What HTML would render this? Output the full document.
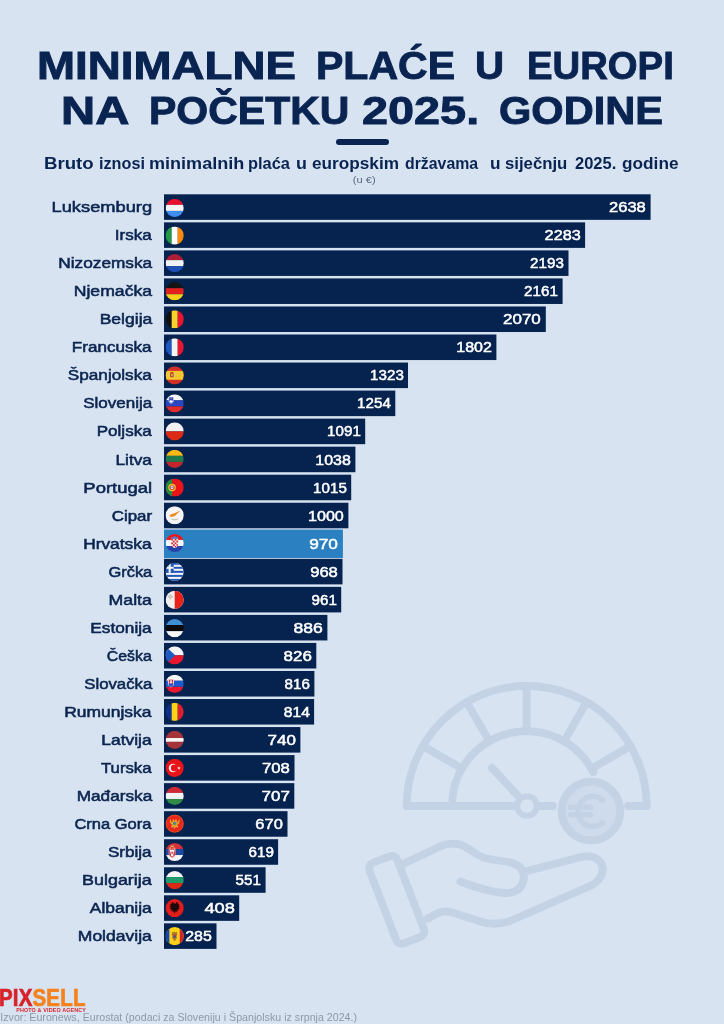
<!DOCTYPE html>
<html lang="hr"><head><meta charset="utf-8"><title>Minimalne plaće u Europi na početku 2025. godine</title>
<style>
html,body{margin:0;padding:0;overflow:hidden}
body{width:724px;height:1024px;background:#d7e3f1;position:relative;overflow:hidden;font-family:"Liberation Sans",sans-serif;color:#0b2550}
.t{position:absolute;left:0;width:724px;height:40px;font-weight:bold;font-size:38.2px;line-height:40px;white-space:nowrap;color:#0a2452;transform-origin:50% 50%;-webkit-text-stroke:0.9px #0a2452}
.t span,.st span{position:absolute;top:0;transform-origin:0 50%}
.t1{top:46.3px}
.t2{top:91.1px}
.dv{position:absolute;left:336px;top:138.7px;width:53px;height:6.3px;border-radius:3.2px;background:#0a2452}
.st{position:absolute;left:0;width:724px;top:153.5px;height:20px;font-weight:bold;font-size:15.6px;line-height:20px;white-space:nowrap;color:#0a2452}
.un{position:absolute;left:312px;width:100px;top:174px;text-align:center;font-size:8.7px;line-height:12px;color:#5a6880;transform:translateX(2.2px) scaleX(1.28)}
.row{position:absolute;left:0;width:724px;height:26px}
.lb{position:absolute;right:572.1px;top:0;height:100%;line-height:25.5px;font-weight:normal;-webkit-text-stroke:0.55px #0b2550;font-size:15.1px;white-space:nowrap;color:#0b2550;transform:scaleX(1.103);transform-origin:100% 50%}
.v{position:absolute;top:0;height:100%;line-height:26px;font-weight:normal;-webkit-text-stroke:0.5px #fff;font-size:14.3px;color:#fff;white-space:nowrap;transform:scaleX(1.14);transform-origin:100% 50%}
.wm{position:absolute;left:0;top:0;width:724px;height:1024px}
.lg{position:absolute;left:-1.5px;top:985.1px;font-weight:bold;font-size:23.6px;line-height:26px;letter-spacing:0.2px;white-space:nowrap;transform:scaleX(0.868);transform-origin:0 50%;-webkit-text-stroke:0.7px currentColor}
.lg b{color:#d8232a;-webkit-text-stroke:0.7px #d8232a} .lg i{font-style:normal;color:#f5821f;-webkit-text-stroke:0.7px #f5821f}
.lg2{position:absolute;left:16.2px;top:1007.2px;font-weight:bold;font-size:5.4px;line-height:7px;letter-spacing:0.14px;color:#d8232a;white-space:nowrap}
.src{position:absolute;left:0.3px;top:1012.4px;font-size:10.6px;line-height:11.5px;color:#8e98a9;white-space:nowrap;letter-spacing:0.03px}
</style></head><body>
<svg class="wm" viewBox="0 0 724 1024" fill="none" stroke="#c4d2e5" stroke-width="7.800" stroke-linecap="round" stroke-linejoin="round">
<path d="M406.700 806A120 120 0 0 1 646.700 806"/>
<path d="M452 806A74.700 74.700 0 0 1 593.300 772.100"/>
<path d="M406.700 806H515M539 806h14M628 806H646.700"/>
<path d="M526.700 731.300V686M489.350 741.300L466.700 702.100M564.050 741.300L586.700 702.100M462 768.650L422.800 746M591.400 768.650L630.600 746"/>
<circle cx="527" cy="806" r="9.800" stroke-width="6"/>
<path d="M492 768L519.500 797.500"/>
<circle cx="591" cy="811" r="29.300" fill="#cedbec" stroke-width="8"/>
<path d="M602.500 800a15 15 0 1 0 0 23M570.500 807.300h20M570.500 814.800h20" stroke-width="5.500"/>
<rect x="381.800" y="856.600" width="29.800" height="86.400" rx="6" transform="rotate(-21 396.700 899.800)"/>
<path d="M403 864L440 846.500Q455 840 468 848.500L478 855Q484 858.500 492 859.500L508 862Q524 865 524 877Q523 892 507 893Q490 893 460.500 881.500"/>
<path d="M525 871.500L579 857.500Q590 854.500 597 859Q606 866 601 876Q598 882 590 886L510 921Q496 926 482 922L452 912.500Q444 910 437 913.500L428 918.500"/>
</svg>
<div class="t t1"><span style="left:37.31px;transform:scaleX(1.1967)">MINIMALNE</span> <span style="left:315.85px;transform:scaleX(1.0741)">PLAĆE</span> <span style="left:474.86px;transform:scaleX(1.0542)">U</span> <span style="left:527.0px;transform:scaleX(1.0025)">EUROPI</span></div>
<div class="t t2"><span style="left:61.32px;transform:scaleX(1.2379)">NA</span> <span style="left:148.65px;transform:scaleX(1.0736)">POČETKU</span> <span style="left:362.37px;transform:scaleX(1.226)">2025.</span> <span style="left:499.31px;transform:scaleX(1.0889)">GODINE</span></div>
<div class="dv"></div>
<div class="st"><span style="left:44.0px;transform:scaleX(1.195)">Bruto</span> <span style="left:98.66px;transform:scaleX(1.0405)">iznosi</span> <span style="left:148.84px;transform:scaleX(1.1576)">minimalnih</span> <span style="left:248.35px;transform:scaleX(1.0513)">plaća</span> <span style="left:295.85px;transform:scaleX(1.1467)">u</span> <span style="left:312.35px;transform:scaleX(1.1032)">europskim</span> <span style="left:404.94px;transform:scaleX(1.0161)">državama</span> <span style="left:490.29px;transform:scaleX(1.1067)">u</span> <span style="left:505.49px;transform:scaleX(1.0738)">siječnju</span> <span style="left:574.77px;transform:scaleX(1.0587)">2025.</span> <span style="left:622.17px;transform:scaleX(1.1055)">godine</span></div>
<div class="un">(u €)</div>
<svg class="wm" viewBox="0 0 724 1024" fill="#06234f"><defs><clipPath id="cc"><circle cx="9" cy="9" r="9"/></clipPath></defs><rect x="164.0" y="194.30" width="486.6" height="25.55"/><rect x="164.0" y="222.34" width="421.1" height="25.55"/><rect x="164.0" y="250.38" width="404.5" height="25.55"/><rect x="164.0" y="278.42" width="398.6" height="25.55"/><rect x="164.0" y="306.46" width="381.8" height="25.55"/><rect x="164.0" y="334.50" width="332.4" height="25.55"/><rect x="164.0" y="362.54" width="244.0" height="25.55"/><rect x="164.0" y="390.58" width="231.3" height="25.55"/><rect x="164.0" y="418.62" width="201.2" height="25.55"/><rect x="164.0" y="446.66" width="191.4" height="25.55"/><rect x="164.0" y="474.70" width="187.2" height="25.55"/><rect x="164.0" y="502.74" width="184.4" height="25.55"/><rect x="164.0" y="529.58" width="178.9" height="28.40" fill="#2b80c2"/><rect x="164.0" y="558.82" width="178.5" height="25.55"/><rect x="164.0" y="586.86" width="177.2" height="25.55"/><rect x="164.0" y="614.90" width="163.4" height="25.55"/><rect x="164.0" y="642.94" width="152.3" height="25.55"/><rect x="164.0" y="670.98" width="150.4" height="25.55"/><rect x="164.0" y="699.02" width="150.1" height="25.55"/><rect x="164.0" y="727.06" width="136.4" height="25.55"/><rect x="164.0" y="755.10" width="130.5" height="25.55"/><rect x="164.0" y="783.14" width="130.3" height="25.55"/><rect x="164.0" y="811.18" width="123.5" height="25.55"/><rect x="164.0" y="839.22" width="114.1" height="25.55"/><rect x="164.0" y="867.26" width="101.6" height="25.55"/><rect x="164.0" y="895.30" width="75.2" height="25.55"/><rect x="164.0" y="923.34" width="52.5" height="25.55"/><g transform="translate(165.6 198.80) scale(1.0111)" clip-path="url(#cc)"><rect width="18" height="6" fill="#e8112d"/><rect y="6" width="18" height="6" fill="#f4f4f4"/><rect y="12" width="18" height="6" fill="#3d8df5"/></g><g transform="translate(165.6 226.44) scale(1.0111)" clip-path="url(#cc)"><rect width="6" height="18" fill="#1f9a45"/><rect x="6" width="6" height="18" fill="#ffffff"/><rect x="12" width="6" height="18" fill="#ff8a0d"/></g><g transform="translate(165.6 254.08) scale(1.0111)" clip-path="url(#cc)"><rect width="18" height="6" fill="#ae1c35"/><rect y="6" width="18" height="6" fill="#f2f2f2"/><rect y="12" width="18" height="6" fill="#1d4fb5"/></g><g transform="translate(165.6 282.12) scale(1.0111)" clip-path="url(#cc)"><rect width="18" height="6" fill="#141414"/><rect y="6" width="18" height="6" fill="#e2211c"/><rect y="12" width="18" height="6" fill="#f7d117"/></g><g transform="translate(165.6 310.16) scale(1.0111)" clip-path="url(#cc)"><rect width="6" height="18" fill="#111111"/><rect x="6" width="6" height="18" fill="#f8d12e"/><rect x="12" width="6" height="18" fill="#e8172f"/></g><g transform="translate(165.6 338.20) scale(1.0111)" clip-path="url(#cc)"><rect width="6" height="18" fill="#1c57c4"/><rect x="6" width="6" height="18" fill="#f4f4f4"/><rect x="12" width="6" height="18" fill="#e8172f"/></g><g transform="translate(165.6 366.24) scale(1.0111)" clip-path="url(#cc)"><rect width="18" height="18" fill="#d22f27"/><rect y="4.600" width="18" height="8.800" fill="#f6c62d"/><rect x="4.400" y="6.400" width="3.600" height="4.600" rx="1.200" fill="#b3492a"/><rect x="4.800" y="5.700" width="2.800" height="1.100" fill="#c9382c"/><path d="M3.700 6.800v4.200M8.700 6.800v4.200" stroke="#d8c7a0" stroke-width=".7"/><rect x="5.300" y="7.400" width="1.800" height="2.400" fill="#d9a24a"/></g><g transform="translate(165.6 394.28) scale(1.0111)" clip-path="url(#cc)"><rect width="18" height="6" fill="#f7f7f7"/><rect y="6" width="18" height="6" fill="#2a46c2"/><rect y="12" width="18" height="6" fill="#e22a2a"/><path d="M3.200 2.800h4.600v3.800c0 1.800-2.300 2.700-2.300 2.700s-2.300-.9-2.300-2.700z" fill="#2a46c2" stroke="#e8ecf8" stroke-width=".5"/><path d="M3.700 6.900l1-1.200.8.700.8-.7 1 1.200c-.3 1-1.800 1.700-1.800 1.700s-1.500-.7-1.800-1.700z" fill="#fff"/><path d="M4.700 4l.3.500.5-.9.500.9.300-.5" stroke="#f2d33a" stroke-width=".4" fill="none"/></g><g transform="translate(165.6 422.32) scale(1.0111)" clip-path="url(#cc)"><rect width="18" height="9" fill="#f1f1f1"/><rect y="9" width="18" height="9" fill="#dc2a14"/></g><g transform="translate(165.6 449.76) scale(1.0111)" clip-path="url(#cc)"><rect width="18" height="6" fill="#fdb913"/><rect y="6" width="18" height="6" fill="#1f7a4d"/><rect y="12" width="18" height="6" fill="#c1272d"/></g><g transform="translate(165.6 478.40) scale(1.0111)" clip-path="url(#cc)"><rect width="18" height="18" fill="#e8151b"/><rect width="6.400" height="18" fill="#1f8f3f"/><circle cx="6.400" cy="9" r="3.700" fill="#f3c22b"/><circle cx="6.400" cy="9" r="2.500" fill="#d9322b"/><path d="M5.100 7.300h2.600v2.200c0 .8-1.300 1.300-1.300 1.300s-1.300-.5-1.300-1.300z" fill="#e9edf5"/><circle cx="6.400" cy="8.800" r=".8" fill="#5c7fc0"/></g><g transform="translate(165.6 506.14) scale(1.0111)" clip-path="url(#cc)"><rect width="18" height="18" fill="#f4f4f4"/><path d="M4 9.300c.4-1.300 2.400-1.700 4-2 1.800-.4 3.600-2 6.400-2.700-.8 1.500-2.600 2-3.300 3.200-.7 1.300-2.300 2.600-4.300 2.700-1.600.1-3-.3-2.800-1.200z" fill="#f08a1d"/><path d="M5.600 12.400c1.600 1.500 5 1.500 6.600 0" stroke="#9ab08a" stroke-width=".8" fill="none"/></g><g transform="translate(165.6 533.88) scale(1.0111)" clip-path="url(#cc)"><rect width="18" height="6" fill="#f01616"/><rect y="6" width="18" height="6" fill="#f7f7f7"/><rect y="12" width="18" height="6" fill="#2443a8"/><path d="M5.600 4.800h6.800v5.600c0 2.300-3.400 3.500-3.400 3.500s-3.400-1.200-3.400-3.500z" fill="#f4f4f4"/><g fill="#e0252b"><rect x="5.600" y="4.800" width="1.700" height="1.800"/><rect x="9" y="4.800" width="1.700" height="1.800"/><rect x="7.300" y="6.600" width="1.700" height="1.800"/><rect x="10.700" y="6.600" width="1.700" height="1.800"/><rect x="5.600" y="8.400" width="1.700" height="1.800"/><rect x="9" y="8.400" width="1.700" height="1.800"/><rect x="7.300" y="10.200" width="1.700" height="1.800"/><rect x="10.700" y="10.200" width="1.500" height="1.500"/><rect x="9" y="12" width="1.600" height="1.300"/><rect x="6.200" y="12" width="1.100" height=".8"/></g><path d="M5.400 4.800l.5-2 1.100.700.900-1 .5.300.6-.6.600.6.500-.300.900 1 1.100-.700.500 2z" fill="#4a86d8"/></g><g transform="translate(165.6 562.72) scale(1.0111)" clip-path="url(#cc)"><rect width="18" height="18" fill="#f7f7f7"/><g fill="#1f56b8"><rect y="0" width="18" height="2"/><rect y="4" width="18" height="2"/><rect y="8" width="18" height="2"/><rect y="12" width="18" height="2"/><rect y="16" width="18" height="2"/><rect width="8" height="10"/></g><rect x="3" width="2" height="10" fill="#f7f7f7"/><rect y="4" width="8" height="2" fill="#f7f7f7"/></g><g transform="translate(165.6 590.76) scale(1.0111)" clip-path="url(#cc)"><rect width="18" height="18" fill="#f2f0ee"/><rect x="9" width="9" height="18" fill="#e8231c"/><path d="M3.900 3.400h1.700v1.600h1.600v1.700h-1.600v1.600h-1.700v-1.600h-1.600v-1.700h1.600z" fill="#c4bcbc"/><circle cx="4.750" cy="5.850" r=".8" fill="#e9d9d6"/></g><g transform="translate(165.6 619.00) scale(1.0111)" clip-path="url(#cc)"><rect width="18" height="6" fill="#3f8fd1"/><rect y="6" width="18" height="6" fill="#0a0a0a"/><rect y="12" width="18" height="6" fill="#f7f7f7"/></g><g transform="translate(165.6 646.24) scale(1.0111)" clip-path="url(#cc)"><rect width="18" height="9" fill="#f4f4f4"/><rect y="9" width="18" height="9" fill="#e8172f"/><path d="M0 0l9.500 9-9.500 9z" fill="#1d5bc4"/></g><g transform="translate(165.6 674.68) scale(1.0111)" clip-path="url(#cc)"><rect width="18" height="6" fill="#f5f5f5"/><rect y="6" width="18" height="6" fill="#1f5bd0"/><rect y="12" width="18" height="6" fill="#e8172f"/><path d="M2.800 4.400h5v4.600c0 2.100-2.500 3.200-2.500 3.200s-2.500-1.100-2.500-3.200z" fill="#e3263a" stroke="#f5f5f5" stroke-width=".8"/><path d="M5.300 5.200v5M4.300 6.300h2M3.900 7.700h2.800" stroke="#fff" stroke-width=".75" fill="none"/><path d="M3 9.600c.5-.9 1.500-1 2.300-.300.8-.7 1.800-.6 2.300.3-.3 1.200-2.300 2.300-2.300 2.300s-2-1.100-2.300-2.300z" fill="#1f5bd0"/></g><g transform="translate(165.6 702.72) scale(1.0111)" clip-path="url(#cc)"><rect width="6" height="18" fill="#0d2f8c"/><rect x="6" width="6" height="18" fill="#fcd116"/><rect x="12" width="6" height="18" fill="#dd1f2d"/></g><g transform="translate(165.6 730.76) scale(1.0111)" clip-path="url(#cc)"><rect width="18" height="18" fill="#a4343a"/><rect y="7.200" width="18" height="3.600" fill="#f7f7f7"/></g><g transform="translate(165.6 758.80) scale(1.0111)" clip-path="url(#cc)"><rect width="18" height="18" fill="#e81419"/><circle cx="7.400" cy="9" r="4.200" fill="#f7f7f7"/><circle cx="8.600" cy="9" r="3.400" fill="#e81419"/><path d="M13.200 7.400l.45 1.150 1.250.05-1 .800.350 1.200-1.050-.7-1.050.7.350-1.200-1-.8 1.250-.05z" fill="#f7f7f7"/></g><g transform="translate(165.6 786.84) scale(1.0111)" clip-path="url(#cc)"><rect width="18" height="6" fill="#cf2a36"/><rect y="6" width="18" height="6" fill="#f4f4f4"/><rect y="12" width="18" height="6" fill="#2f8a46"/></g><g transform="translate(165.6 814.58) scale(1.0111)" clip-path="url(#cc)"><rect width="18" height="18" fill="#e8281a"/><circle cx="9" cy="9" r="8.700" fill="none" stroke="#d98a2a" stroke-width=".5"/><path d="M9 14.600L8 12L6.200 13L5.200 11.600L7 10.400L5 9.400Q3.400 7 4.400 4.200L6.400 8L7 5.400L7.800 4.200L8.400 5.600L9 6.400L9.600 5.600L10.200 4.200L11 5.400L11.600 8L13.600 4.200Q14.600 7 13 9.400L11 10.400L12.800 11.600L11.800 13L10 12Z" fill="#e2a532"/><circle cx="9" cy="8.900" r="1.700" fill="#5a9060"/><path d="M7.400 8.400a1.700 1.700 0 0 1 3.200 0z" fill="#4a78b0"/></g><g transform="translate(165.6 842.92) scale(1.0111)" clip-path="url(#cc)"><rect width="18" height="6" fill="#d5303c"/><rect y="6" width="18" height="6" fill="#1f4aa3"/><rect y="12" width="18" height="6" fill="#f5f5f5"/><path d="M3.300 5.600h6.400v5.400c0 2.400-3.200 3.700-3.200 3.700s-3.200-1.300-3.200-3.700z" fill="#d5303c" stroke="#f3dfd2" stroke-width=".4"/><path d="M6.500 6.200l.6.900 1.900-.9-.4 2.800-.8-.2.600 1.500-.9.300.3 2-1.300 1.100-1.300-1.100.3-2-.9-.3.600-1.500-.8.200-.4-2.800 1.900.9z" fill="#f7efef"/><rect x="5.800" y="8.700" width="1.400" height="2" fill="#d5303c"/><path d="M3.900 5.600l.2-1.300.9-.3.300-1.700 1.200.5 1.200-.5.300 1.700.9.300.2 1.300z" fill="#e8b050"/><path d="M5.300 4h2.400v1.600h-2.400z" fill="#d5303c"/></g><g transform="translate(165.6 870.96) scale(1.0111)" clip-path="url(#cc)"><rect width="18" height="6" fill="#f5f5f5"/><rect y="6" width="18" height="6" fill="#1f9a68"/><rect y="12" width="18" height="6" fill="#dc2a14"/></g><g transform="translate(165.6 899.00) scale(1.0111)" clip-path="url(#cc)"><rect width="18" height="18" fill="#e31c1c"/><path d="M9 14.500L8.200 12.200L6.800 13L7 11.200L5 11.600L5.800 10L3.800 9.400L5.200 8.200L3.600 6.800L5.400 6.400L4.200 4.600L6.200 5L5.800 3.400Q6.800 2.600 7.800 3.600L8.200 5L9 4L9.800 5L10.200 3.600Q11.200 2.600 12.200 3.400L11.800 5L13.800 4.600L12.600 6.400L14.400 6.800L12.800 8.200L14.200 9.400L12.200 10L13 11.600L11 11.200L11.200 13L9.800 12.200Z" fill="#1c0a0a"/></g><g transform="translate(165.6 927.04) scale(1.0111)" clip-path="url(#cc)"><rect width="18" height="18" fill="#fcd116"/><rect width="3.700" height="18" fill="#1046b5"/><rect x="14" width="4" height="18" fill="#d5202f"/><path d="M8.850 4.400l.9.900 1.700-.600-.3 1.900.8 1-1 .800.200 3-1.100.500-.3 1.600h-1.800l-.3-1.600-1.100-.5.200-3-1-.8.800-1-.3-1.900 1.700.6z" fill="#a8772a"/><path d="M7.750 7.300h2.200v2.500l-1.100 1.100-1.100-1.100z" fill="#c8323a"/><path d="M7.750 8.600h2.200v1.200l-1.100 1.100-1.100-1.100z" fill="#2a55b8"/></g></svg>
<div class="row" style="top:194px"><span class="lb" style="transform:scaleX(1.210)">Luksemburg</span> <span class="v" style="right:78.0px;transform:scaleX(1.158)">2638</span></div>
<div class="row" style="top:222px"><span class="lb" style="transform:scaleX(1.131)">Irska</span> <span class="v" style="right:143.5px;transform:scaleX(1.139)">2283</span></div>
<div class="row" style="top:250px"><span class="lb" style="transform:scaleX(1.142)">Nizozemska</span> <span class="v" style="right:160.1px;transform:scaleX(1.060)">2193</span></div>
<div class="row" style="top:278px"><span class="lb" style="transform:scaleX(1.168)">Njemačka</span> <span class="v" style="right:166.0px;transform:scaleX(1.060)">2161</span></div>
<div class="row" style="top:306px"><span class="lb" style="transform:scaleX(1.162)">Belgija</span> <span class="v" style="right:182.8px;transform:scaleX(1.190)">2070</span></div>
<div class="row" style="top:334px"><span class="lb" style="transform:scaleX(1.130)">Francuska</span> <span class="v" style="right:232.2px;transform:scaleX(1.118)">1802</span></div>
<div class="row" style="top:362px"><span class="lb" style="transform:scaleX(1.138)">Španjolska</span> <span class="v" style="right:320.6px;transform:scaleX(1.060)">1323</span></div>
<div class="row" style="top:390px"><span class="lb" style="transform:scaleX(1.128)">Slovenija</span> <span class="v" style="right:333.3px;transform:scaleX(1.060)">1254</span></div>
<div class="row" style="top:418px"><span class="lb" style="transform:scaleX(1.129)">Poljska</span> <span class="v" style="right:363.4px;transform:scaleX(1.060)">1091</span></div>
<div class="row" style="top:447px"><span class="lb" style="transform:scaleX(1.142)">Litva</span> <span class="v" style="right:373.2px;transform:scaleX(1.118)">1038</span></div>
<div class="row" style="top:475px"><span class="lb" style="transform:scaleX(1.226)">Portugal</span> <span class="v" style="right:377.4px;transform:scaleX(1.060)">1015</span></div>
<div class="row" style="top:503px"><span class="lb" style="transform:scaleX(1.119)">Cipar</span> <span class="v" style="right:380.2px;transform:scaleX(1.127)">1000</span></div>
<div class="row" style="top:531px"><span class="lb" style="transform:scaleX(1.149)">Hrvatska</span> <span class="v" style="right:385.7px;transform:scaleX(1.203)">970</span></div>
<div class="row" style="top:559px"><span class="lb" style="transform:scaleX(1.090)">Grčka</span> <span class="v" style="right:386.1px;transform:scaleX(1.161)">968</span></div>
<div class="row" style="top:587px"><span class="lb" style="transform:scaleX(1.175)">Malta</span> <span class="v" style="right:387.4px;transform:scaleX(1.060)">961</span></div>
<div class="row" style="top:615px"><span class="lb" style="transform:scaleX(1.142)">Estonija</span> <span class="v" style="right:401.2px;transform:scaleX(1.230)">886</span></div>
<div class="row" style="top:643px"><span class="lb" style="transform:scaleX(1.053)">Češka</span> <span class="v" style="right:412.3px;transform:scaleX(1.187)">826</span></div>
<div class="row" style="top:671px"><span class="lb" style="transform:scaleX(1.110)">Slovačka</span> <span class="v" style="right:414.2px;transform:scaleX(1.060)">816</span></div>
<div class="row" style="top:699px"><span class="lb" style="transform:scaleX(1.156)">Rumunjska</span> <span class="v" style="right:414.5px;transform:scaleX(1.094)">814</span></div>
<div class="row" style="top:727px"><span class="lb" style="transform:scaleX(1.153)">Latvija</span> <span class="v" style="right:428.2px;transform:scaleX(1.188)">740</span></div>
<div class="row" style="top:755px"><span class="lb" style="transform:scaleX(1.111)">Turska</span> <span class="v" style="right:434.1px;transform:scaleX(1.170)">708</span></div>
<div class="row" style="top:783px"><span class="lb" style="transform:scaleX(1.140)">Mađarska</span> <span class="v" style="right:434.3px;transform:scaleX(1.186)">707</span></div>
<div class="row" style="top:811px"><span class="lb" style="transform:scaleX(1.093)">Crna Gora</span> <span class="v" style="right:441.1px;transform:scaleX(1.153)">670</span></div>
<div class="row" style="top:839px"><span class="lb" style="transform:scaleX(1.132)">Srbija</span> <span class="v" style="right:450.5px;transform:scaleX(1.060)">619</span></div>
<div class="row" style="top:867px"><span class="lb" style="transform:scaleX(1.186)">Bulgarija</span> <span class="v" style="right:463.0px;transform:scaleX(1.060)">551</span></div>
<div class="row" style="top:895px"><span class="lb" style="transform:scaleX(1.152)">Albanija</span> <span class="v" style="right:489.4px;transform:scaleX(1.275)">408</span></div>
<div class="row" style="top:923px"><span class="lb" style="transform:scaleX(1.160)">Moldavija</span> <span class="v" style="right:512.1px;transform:scaleX(1.115)">285</span></div>
<div class="lg"><b>PIX</b><i>SELL</i></div>
<div class="lg2">PHOTO &amp; VIDEO AGENCY</div>
<div class="src">Izvor: Euronews, Eurostat (podaci za Sloveniju i Španjolsku iz srpnja 2024.)</div>
</body></html>
